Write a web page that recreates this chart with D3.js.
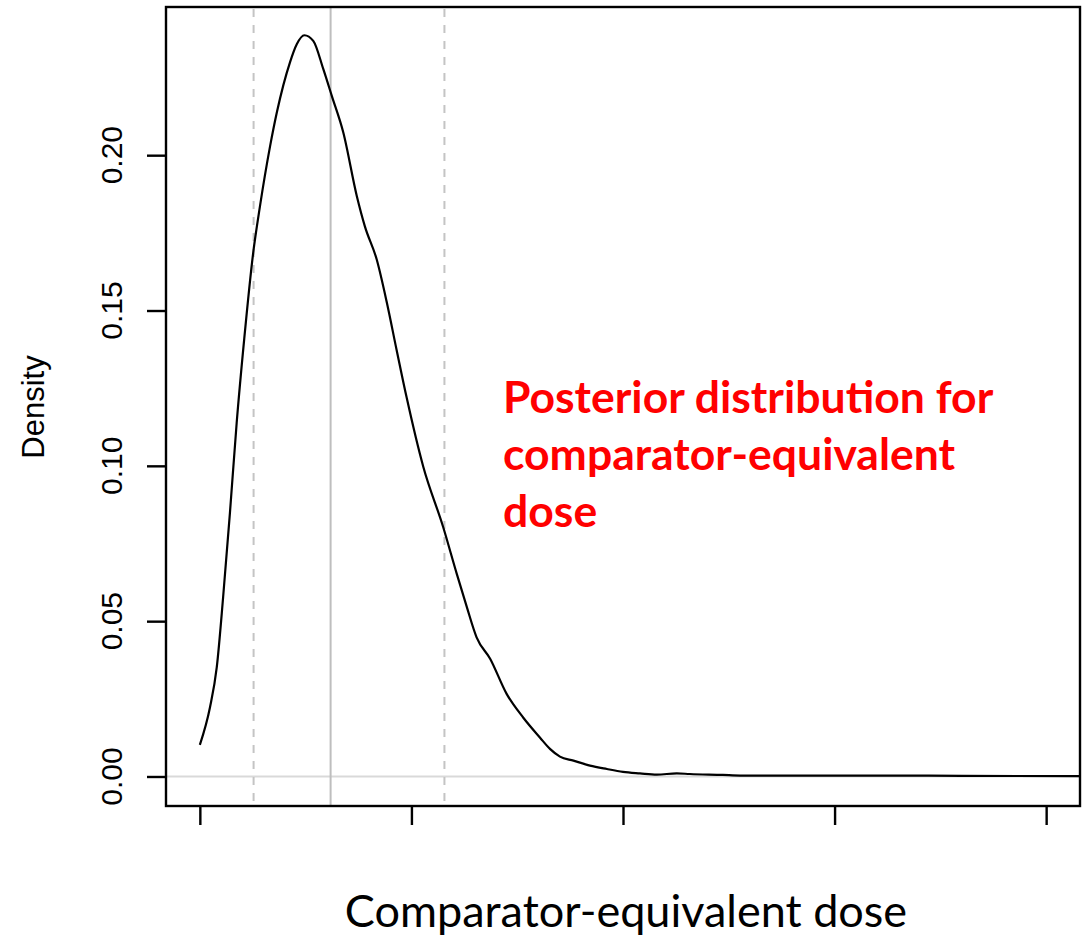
<!DOCTYPE html>
<html>
<head>
<meta charset="utf-8">
<script src="https://cdn.jsdelivr.net/npm/d3@7"></script>
<style>
  body { margin: 0; background: #fff; }
  svg { display: block; }
</style>
</head>
<body>
<script>
// density estimate
var dose = [0, 0.24, 0.40, 0.55, 0.71, 0.87, 1.05, 1.26, 1.42, 1.66, 1.82, 2.13, 2.29, 2.47,
            2.68, 2.92, 3.12, 3.39, 3.71, 3.90, 4.18, 4.42, 4.65, 4.89, 5.28, 5.75, 6.07,
            6.31, 6.54, 6.86, 7.25, 7.64, 8.04, 8.28, 8.51, 8.83, 9.22, 9.62, 10.0, 10.4,
            10.8, 11.27, 11.58, 12.36, 12.77, 14, 16, 18, 20.8];
var density = [0.0102, 0.0223, 0.0352, 0.0577, 0.0847, 0.1138, 0.1410, 0.1685, 0.1835, 0.2029,
               0.2138, 0.2299, 0.2357, 0.2386, 0.2368, 0.2276, 0.2190, 0.2073, 0.1868, 0.1771,
               0.1664, 0.1525, 0.1373, 0.1218, 0.0997, 0.0803, 0.0653, 0.0545, 0.0448, 0.0379,
               0.0266, 0.0190, 0.0125, 0.0088, 0.0064, 0.0051, 0.0035, 0.0024, 0.0015, 0.0010,
               0.0006, 0.0010, 0.0008, 0.0005, 0.0003, 0.0003, 0.0003, 0.0002, 0.0001];

// interval and median of the posterior
var lowerCI = 1.27, median = 3.09, upperCI = 5.78;

var xTicks = [0, 5, 10, 15, 20];
var yTicks = [0, 0.05, 0.10, 0.15, 0.20];
var yTickLabels = ["0.00", "0.05", "0.10", "0.15", "0.20"];
var annotation = ["Posterior distribution for", "comparator-equivalent", "dose"];

var width = 1092, height = 936;
var plot = {left: 166, right: 1080, top: 7, bottom: 806};

var x = d3.scaleLinear().domain([-0.8, 20.8]).range([plot.left, plot.right]);
var y = d3.scaleLinear().domain([-0.0095, 0.2477]).range([plot.bottom, plot.top]);

var svg = d3.select("body").append("svg")
    .attr("width", width)
    .attr("height", height);

// zero line
svg.append("line")
    .attr("x1", plot.left).attr("x2", plot.right)
    .attr("y1", y(0)).attr("y2", y(0))
    .style("stroke", "#d9d9d9")
    .style("stroke-width", 2);

// interval lines
[lowerCI, upperCI].forEach(function(v) {
  svg.append("line")
      .attr("x1", x(v)).attr("x2", x(v))
      .attr("y1", plot.top).attr("y2", plot.bottom)
      .style("stroke", "#c4c4c4")
      .style("stroke-width", 2)
      .style("stroke-dasharray", "8,8")
      .style("stroke-dashoffset", -2);
});
svg.append("line")
    .attr("x1", x(median)).attr("x2", x(median))
    .attr("y1", plot.top).attr("y2", plot.bottom)
    .style("stroke", "#bebebe")
    .style("stroke-width", 2);

// the density curve
var line = d3.line()
    .x(function(d, i) { return x(dose[i]); })
    .y(function(d) { return y(d); })
    .curve(d3.curveMonotoneX);

svg.append("path")
    .datum(density)
    .attr("d", line)
    .style("fill", "none")
    .style("stroke", "#000")
    .style("stroke-width", 2.2);

// box
svg.append("rect")
    .attr("x", plot.left).attr("y", plot.top)
    .attr("width", plot.right - plot.left)
    .attr("height", plot.bottom - plot.top)
    .style("fill", "none")
    .style("stroke", "#000")
    .style("stroke-width", 2.4);

// x axis, ticks only
var xAxis = svg.append("g")
    .attr("transform", "translate(0," + plot.bottom + ")")
    .call(d3.axisBottom(x).tickValues(xTicks).tickSize(19).tickSizeOuter(0).tickFormat(""));
xAxis.select(".domain").remove();
xAxis.selectAll(".tick line").style("stroke", "#000").style("stroke-width", 2.4);

// y axis, rotated labels like R
var yAxis = svg.append("g")
    .attr("transform", "translate(" + plot.left + ",0)")
    .call(d3.axisLeft(y).tickValues(yTicks).tickSize(19).tickSizeOuter(0).tickFormat(""));
yAxis.select(".domain").remove();
yAxis.selectAll(".tick line").style("stroke", "#000").style("stroke-width", 2.4);

svg.selectAll(".ylab")
    .data(yTicks)
    .enter().append("text")
    .attr("class", "ylab")
    .attr("transform", function(d) { return "translate(122," + y(d) + ") rotate(-90)"; })
    .attr("text-anchor", "middle")
    .style("font-family", "Liberation Sans, Arial, sans-serif")
    .style("font-size", "30px")
    .text(function(d, i) { return yTickLabels[i]; });

svg.append("text")
    .attr("transform", "translate(44,407) rotate(-90)")
    .attr("text-anchor", "middle")
    .style("font-family", "Liberation Sans, Arial, sans-serif")
    .style("font-size", "31px")
    .text("Density");

// x label
svg.append("text")
    .attr("x", 626)
    .attr("y", 927)
    .attr("text-anchor", "middle")
    .style("font-family", "Lato, Open Sans, sans-serif")
    .style("font-size", "45px")
    .text("Comparator-equivalent dose");

// red annotation
svg.append("g").selectAll("text")
    .data(annotation)
    .enter().append("text")
    .attr("x", 503)
    .attr("y", function(d, i) { return 413 + i * 57; })
    .style("font-family", "Lato, Open Sans, sans-serif")
    .style("font-weight", "bold")
    .style("font-size", "44.5px")
    .style("fill", "#ff0000")
    .text(function(d) { return d; });
</script>
</body>
</html>
